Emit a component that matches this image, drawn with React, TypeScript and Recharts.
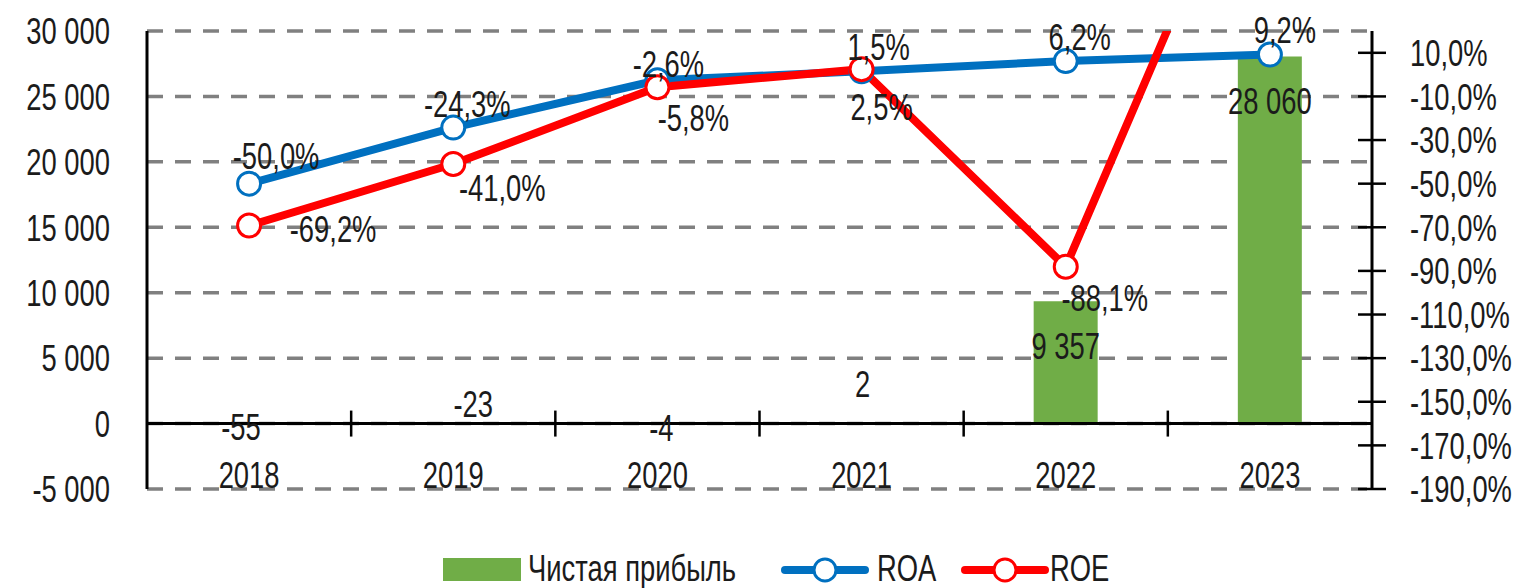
import React from 'react';
import { ComposedChart, Bar, Line, XAxis, YAxis, CartesianGrid, ReferenceLine, LabelList } from 'recharts';

// ---- data ----
const years = ['2018', '2019', '2020', '2021', '2022', '2023'];
const netProfit = [-55, -23, -4, 2, 9357, 28060];
const roa = [-50.0, -24.3, -2.6, 1.5, 6.2, 9.2];
const roe = [-69.2, -41.0, -5.8, 2.5, -88.1, 130.0];
const leftTicks = [-5000, 0, 5000, 10000, 15000, 20000, 25000, 30000];
const rightTicks = [-190, -170, -150, -130, -110, -90, -70, -50, -30, -10, 10];
const seriesNames = ['Чистая прибыль', 'ROA', 'ROE'];

// label nudges (style, px)
const roaLabelNudge = [[27, -28], [14, -24], [11, -17], [17, -25], [14, -24], [15, -25]];
const roeLabelNudge = [[84, 3], [49, 24], [36, 30], [20, 38], [39, 31], [0, 0]];
const profitLabelNudge = [[-8, 2], [20, -20], [4, 4], [1, -40], [0, 45], [0, 44]];

const data = years.map((year, i) => ({ year, profit: netProfit[i], roa: roa[i], roe: roe[i] }));

const FONT = "'Liberation Sans', Arial, sans-serif";
const FS = 37;
const SX = 0.74;
const TXT = '#1b1b1b';
const GREEN = '#70AD47';
const BLUE = '#0070C0';
const RED = '#FF0000';

const fmtNum = (v: number) => {
  const s = Math.abs(Math.round(v)).toString().replace(/\B(?=(\d{3})+(?!\d))/g, ' ');
  return (v < 0 ? '-' : '') + s;
};
const fmtPct = (v: number) => v.toFixed(1).replace('.', ',') + '%';

const NText = ({ x, y, anchor, children }: { x: number; y: number; anchor: 'start' | 'middle' | 'end'; children: any }) => (
  <text
    transform={`translate(${x},${y}) scale(${SX},1)`}
    x={0}
    y={0}
    dy="0.36em"
    textAnchor={anchor}
    fill={TXT}
    fontSize={FS}
    fontFamily={FONT}
  >
    {children}
  </text>
);

const RIGHT_MARGIN = 38;

const RightTick = (props: any) => {
  const { x, y, payload } = props;
  const ax = x - RIGHT_MARGIN;
  return (
    <g>
      <line x1={ax - 14} x2={ax + 14} y1={y} y2={y} stroke="#000" strokeWidth={2.5} />
      <NText x={x} y={y} anchor="start">{fmtPct(payload.value)}</NText>
    </g>
  );
};

const LeftTick = (props: any) => {
  const { x, y, payload } = props;
  return <NText x={x} y={y} anchor="end">{fmtNum(payload.value)}</NText>;
};

const XTick = (props: any) => {
  const { x, y, payload } = props;
  return <NText x={x} y={y - 14} anchor="middle">{payload.value}</NText>;
};

const ZeroAxis = (props: any) => {
  const { x1, x2, y1 } = props;
  const n = years.length;
  const step = (x2 - x1) / n;
  const marks = [];
  for (let i = 1; i < n; i++) {
    const xx = x1 + step * i;
    marks.push(<line key={i} x1={xx} x2={xx} y1={y1 - 13} y2={y1 + 13} stroke="#000" strokeWidth={2.5} />);
  }
  return (
    <g>
      <line x1={x1} x2={x2} y1={y1} y2={y1} stroke="#000" strokeWidth={3} />
      {marks}
    </g>
  );
};

const getBox = (p: any) => {
  const vb = p.viewBox || {};
  return {
    x: p.x ?? vb.x,
    y: p.y ?? vb.y,
    width: p.width ?? vb.width ?? 0,
    height: p.height ?? vb.height ?? 0,
  };
};

const makeLineLabel = (nudge: number[][], limit: number) => (p: any) => {
  const { x, y } = getBox(p);
  const i = p.index;
  const v = Number(p.value);
  if (v > limit || x == null || y == null) return null;
  const [dx, dy] = nudge[i] || [0, 0];
  return <NText x={x + dx} y={y + dy} anchor="middle">{fmtPct(v)}</NText>;
};

const ProfitLabel = (p: any) => {
  const { x, y, width, height } = getBox(p);
  const i = p.index;
  const v = Number(p.value);
  const top = Math.min(y, y + height);
  const bottom = Math.max(y, y + height);
  const anchor = v >= 0 ? top : bottom;
  const [dx, dy] = profitLabelNudge[i] || [0, 0];
  return <NText x={x + width / 2 + dx} y={anchor + dy} anchor="middle">{fmtNum(v)}</NText>;
};

const LineIcon = ({ color }: { color: string }) => (
  <svg width={90} height={30} style={{ display: 'block' }}>
    <line x1={5} x2={85} y1={15} y2={15} stroke={color} strokeWidth={8} strokeLinecap="round" />
    <circle cx={45} cy={15} r={11} fill="#fff" stroke={color} strokeWidth={3} />
  </svg>
);

const legendText: React.CSSProperties = {
  position: 'absolute',
  fontFamily: FONT,
  fontSize: FS,
  color: TXT,
  lineHeight: '30px',
  height: 30,
  top: 554,
  whiteSpace: 'nowrap',
  transform: `scale(${SX},1)`,
  transformOrigin: '0 50%',
};

export default function App() {
  return (
    <div style={{ position: 'absolute', left: 0, top: 0, width: 1515, height: 588, background: '#fff', overflow: 'hidden' }}>
      <ComposedChart width={1515} height={588} data={data} margin={{ top: 31, right: 0, bottom: 79, left: 0 }}>
        <CartesianGrid yAxisId="left" vertical={false} stroke="#808080" strokeWidth={3.5} strokeDasharray="16 12" />
        <XAxis dataKey="year" axisLine={false} tickLine={false} tickSize={0} tickMargin={0} height={20} tick={<XTick />} interval={0} />
        <YAxis
          yAxisId="left"
          orientation="left"
          width={147}
          domain={[-5000, 30000]}
          ticks={leftTicks}
          interval={0}
          axisLine={{ stroke: '#000', strokeWidth: 3 }}
          tickLine={false}
          tickSize={0}
          tickMargin={37}
          tick={<LeftTick />}
        />
        <YAxis
          yAxisId="right"
          orientation="right"
          width={143}
          domain={[-190, 20]}
          allowDataOverflow
          ticks={rightTicks}
          interval={0}
          axisLine={{ stroke: '#000', strokeWidth: 3 }}
          tickLine={false}
          tickSize={0}
          tickMargin={RIGHT_MARGIN}
          tick={<RightTick />}
        />
        <Bar yAxisId="left" dataKey="profit" name={seriesNames[0]} fill={GREEN} barSize={64} isAnimationActive={false}>
          <LabelList dataKey="profit" content={ProfitLabel} />
        </Bar>
        <ReferenceLine yAxisId="left" y={0} shape={ZeroAxis} />
        <Line
          yAxisId="right"
          dataKey="roa"
          name={seriesNames[1]}
          stroke={BLUE}
          strokeWidth={8}
          dot={{ r: 11.5, fill: '#fff', stroke: BLUE, strokeWidth: 3 }}
          activeDot={false}
          isAnimationActive={false}
        >
          <LabelList dataKey="roa" content={makeLineLabel(roaLabelNudge, 20)} />
        </Line>
        <Line
          yAxisId="right"
          dataKey="roe"
          name={seriesNames[2]}
          stroke={RED}
          strokeWidth={8}
          dot={{ r: 11.5, fill: '#fff', stroke: RED, strokeWidth: 3 }}
          activeDot={false}
          isAnimationActive={false}
        >
          <LabelList dataKey="roe" content={makeLineLabel(roeLabelNudge, 20)} />
        </Line>
      </ComposedChart>

      <div style={{ position: 'absolute', left: 443, top: 558, width: 78, height: 23, background: GREEN }} />
      <div style={{ ...legendText, left: 528 }}>{seriesNames[0]}</div>
      <div style={{ position: 'absolute', left: 780, top: 555 }}><LineIcon color={BLUE} /></div>
      <div style={{ ...legendText, left: 877 }}>{seriesNames[1]}</div>
      <div style={{ position: 'absolute', left: 960, top: 555 }}><LineIcon color={RED} /></div>
      <div style={{ ...legendText, left: 1050 }}>{seriesNames[2]}</div>
    </div>
  );
}
